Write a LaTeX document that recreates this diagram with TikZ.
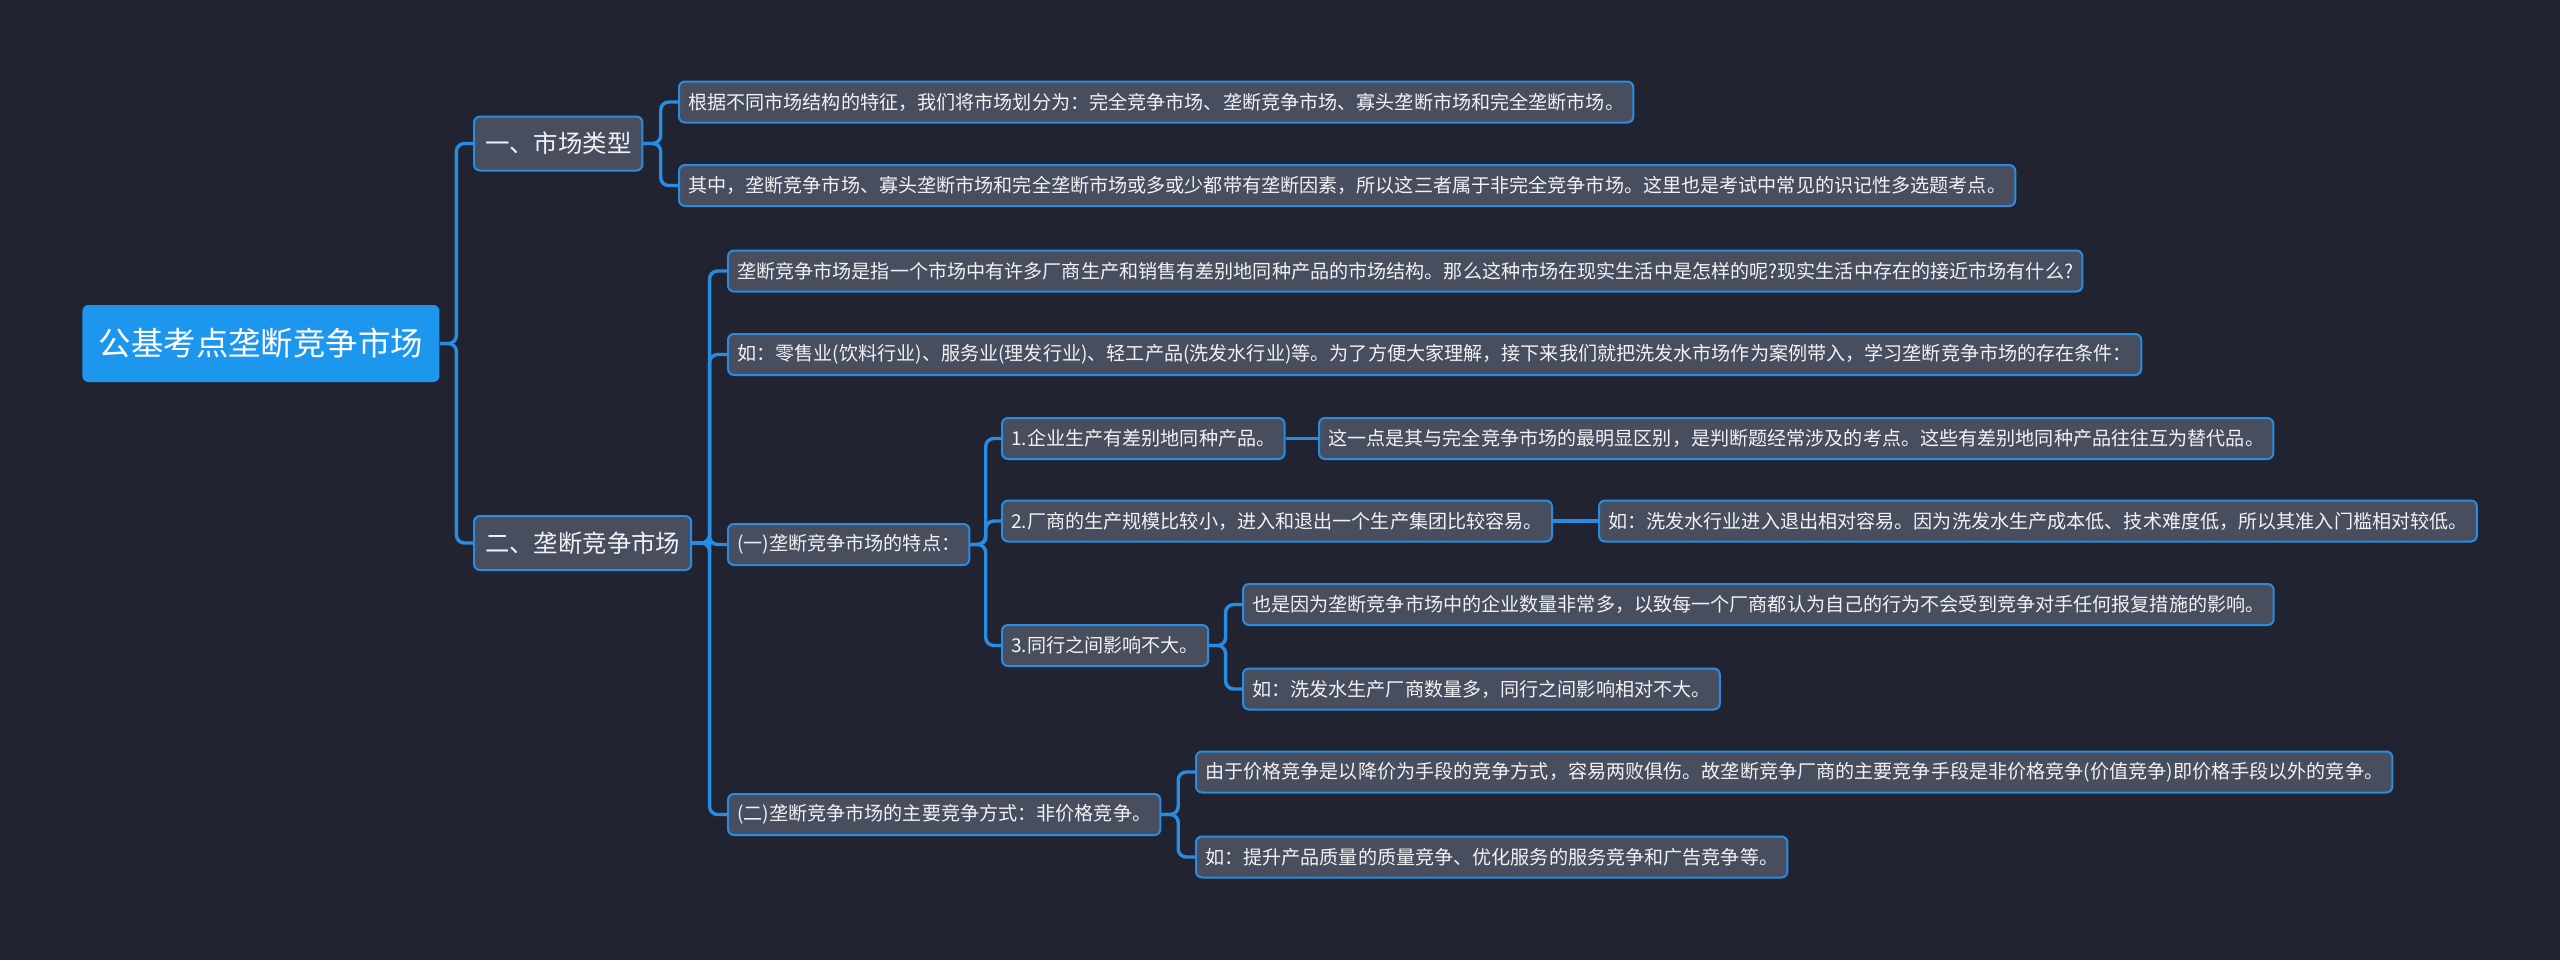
\documentclass[tikz,border=0pt]{standalone}
\usepackage{fontspec}
\setmainfont{Noto Sans CJK SC}
\usetikzlibrary{calc}
\definecolor{bg}{RGB}{33,36,48}
\definecolor{rootblue}{RGB}{29,150,238}
\definecolor{lineblue}{RGB}{38,140,228}
\definecolor{boxgray}{RGB}{72,78,94}
\definecolor{txt}{RGB}{240,242,245}

\begin{document}
\begin{tikzpicture}[x=0.5pt, y=-0.5pt,
    root/.style={fill=rootblue, rounded corners=3pt, text=white, anchor=west, font=\fontsize{16.2}{18}\selectfont, minimum height=38.5pt, inner xsep=8.25pt},
    topic/.style={draw=lineblue, line width=1pt, fill=boxgray, rounded corners=3pt, text=txt, anchor=west, font=\fontsize{12.2}{14}\selectfont, minimum height=27pt, inner xsep=5.5pt},
    leaf/.style={topic, font=\fontsize{9.55}{11}\selectfont, minimum height=20.5pt, inner xsep=4.6pt},
    link/.style={draw=lineblue, line width=1.7pt, rounded corners=4pt},
    fork/.style={link, to path={-| ($(\tikztostart)!.5!(\tikztotarget)$) |- (\tikztotarget)}}
  ]
    \fill[bg] (0,0) rectangle (2560,960);
    \useasboundingbox (0,0) rectangle (2560,960);

    \node[root] (r) at (82,343.5) {公基考点垄断竞争市场};
    \node[topic] (t1) at (473,143.5) {一、市场类型};
    \node[topic] (t2) at (473,543) {二、垄断竞争市场};

    \node[leaf] (a1) at (678,102) {根据不同市场结构的特征，我们将市场划分为：完全竞争市场、垄断竞争市场、寡头垄断市场和完全垄断市场。};
    \node[leaf] (a2) at (678,185.5) {其中，垄断竞争市场、寡头垄断市场和完全垄断市场或多或少都带有垄断因素，所以这三者属于非完全竞争市场。这里也是考试中常见的识记性多选题考点。};

    \node[leaf] (b1) at (727,271) {垄断竞争市场是指一个市场中有许多厂商生产和销售有差别地同种产品的市场结构。那么这种市场在现实生活中是怎样的呢?现实生活中存在的接近市场有什么?};
    \node[leaf] (b2) at (727,354.5) {如：零售业(饮料行业)、服务业(理发行业)、轻工产品(洗发水行业)等。为了方便大家理解，接下来我们就把洗发水市场作为案例带入，学习垄断竞争市场的存在条件：};
    \node[leaf] (b3) at (727,544.5) {(一)垄断竞争市场的特点：};
    \node[leaf] (b4) at (727,814.5) {(二)垄断竞争市场的主要竞争方式：非价格竞争。};

    \node[leaf] (c1) at (1001,438.5) {1.企业生产有差别地同种产品。};
    \node[leaf] (c2) at (1001,521) {2.厂商的生产规模比较小，进入和退出一个生产集团比较容易。};
    \node[leaf] (c3) at (1001,645.5) {3.同行之间影响不大。};

    \node[leaf] (d1) at (1318,438.5) {这一点是其与完全竞争市场的最明显区别，是判断题经常涉及的考点。这些有差别地同种产品往往互为替代品。};
    \node[leaf] (d2) at (1598,521) {如：洗发水行业进入退出相对容易。因为洗发水生产成本低、技术难度低，所以其准入门槛相对较低。};
    \node[leaf] (d3) at (1242,604.5) {也是因为垄断竞争市场中的企业数量非常多，以致每一个厂商都认为自己的行为不会受到竞争对手任何报复措施的影响。};
    \node[leaf] (d4) at (1242,689) {如：洗发水生产厂商数量多，同行之间影响相对不大。};

    \node[leaf] (e1) at (1195,772) {由于价格竞争是以降价为手段的竞争方式，容易两败俱伤。故垄断竞争厂商的主要竞争手段是非价格竞争(价值竞争)即价格手段以外的竞争。};
    \node[leaf] (e2) at (1195,857) {如：提升产品质量的质量竞争、优化服务的服务竞争和广告竞争等。};

    \foreach \p/\c in {r/t1, r/t2, t1/a1, t1/a2, t2/b1, t2/b2, t2/b3, t2/b4, b3/c1, b3/c2, b3/c3, c3/d3, c3/d4, b4/e1, b4/e2}
      \draw[fork] (\p.east) to (\c.west);
    \draw[link] (c1.east) -- (d1.west);
    \draw[link] (c2.east) -- (d2.west);
  \end{tikzpicture}
\end{document}
